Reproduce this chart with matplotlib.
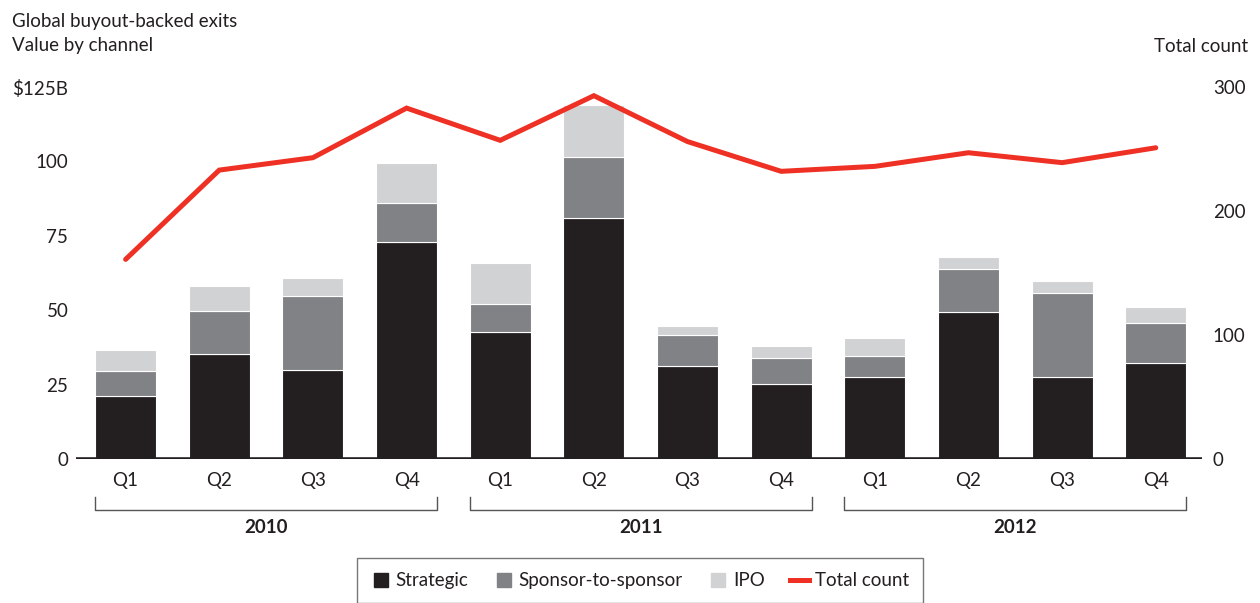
import matplotlib
matplotlib.use("Agg")
import matplotlib.pyplot as plt
from matplotlib.lines import Line2D
import numpy as np

# Quarterly exit values ($B) by channel and total deal count
quarters = ["Q1", "Q2", "Q3", "Q4"] * 3
years = ["2010", "2011", "2012"]
strategic = [21.3, 35.3, 29.9, 72.9, 42.8, 80.9, 31.1, 25.2, 27.4, 49.4, 27.7, 32.3]
sponsor = [8.2, 14.3, 24.8, 13.2, 9.2, 20.6, 10.7, 8.6, 7.2, 14.4, 28.2, 13.3]
ipo = [7.0, 8.6, 6.1, 13.4, 14.0, 17.5, 3.0, 4.2, 6.0, 4.1, 3.9, 5.6]
total_count = [161, 233, 243, 283, 257, 293, 256, 232, 236, 247, 239, 251]

C_STRAT = "#231F20"
C_SPON = "#818286"
C_IPO = "#D1D2D4"
C_LINE = "#EE3124"
C_TEXT = "#231F20"
FS = 13.5

plt.rcParams["font.family"] = ["Lato", "DejaVu Sans"]

fig = plt.figure(figsize=(12.6, 6.03), dpi=100)
ax = fig.add_axes([0.0603, 0.2388, 0.8934, 0.6169])
ax2 = ax.twinx()

x = np.arange(len(quarters))
w = 0.65
s = np.array(strategic)
sp = np.array(sponsor)
ip = np.array(ipo)

ax.bar(x, s, w, color=C_STRAT, edgecolor="white", linewidth=0.8, zorder=2)
ax.bar(x, sp, w, bottom=s, color=C_SPON, edgecolor="white", linewidth=0.8, zorder=2)
ax.bar(x, ip, w, bottom=s + sp, color=C_IPO, edgecolor="white", linewidth=0.8, zorder=2)
ax.axhline(0, color=C_STRAT, linewidth=3.3, zorder=3)

ax2.plot(x, total_count, color=C_LINE, linewidth=3.6, solid_capstyle="round",
         solid_joinstyle="miter", zorder=4)

ax.set_xlim(-0.53, 11.49)
ax.set_ylim(0, 125)
ax2.set_ylim(0, 300)
ax.set_yticks([0, 25, 50, 75, 100, 125])
ax.set_yticklabels(["0", "25", "50", "75", "100", "$125B"])
ax2.set_yticks([0, 100, 200, 300])
ax.set_xticks(x)
ax.set_xticklabels(quarters)

for a in (ax, ax2):
    for sp_name in a.spines.values():
        sp_name.set_visible(False)
    a.tick_params(length=0, labelsize=FS, labelcolor=C_TEXT)
ax.tick_params(axis="y", pad=5.5)
ax2.tick_params(axis="y", pad=8)
ax.tick_params(axis="x", pad=9)

# Year brackets under the quarter labels
trans = ax.get_xaxis_transform()
for i, yr in enumerate(years):
    x0 = i * 4 - w / 2
    x1 = i * 4 + 3 + w / 2
    ax.plot([x0, x0, x1, x1], [-0.102, -0.137, -0.137, -0.102], transform=trans,
            color="#555555", linewidth=1.0, clip_on=False)
    ax.text((x0 + x1) / 2, -0.183, yr, transform=trans, ha="center", va="center",
            fontsize=FS, fontweight="bold", color=C_TEXT)

fig.text(12 / 1260, 1 - 27.5 / 603, "Global buyout-backed exits", fontsize=FS,
         color=C_TEXT, va="baseline", ha="left")
fig.text(12 / 1260, 1 - 51 / 603, "Value by channel", fontsize=FS,
         color=C_TEXT, va="baseline", ha="left")
fig.text(1248 / 1260, 1 - 51.5 / 603, "Total count", fontsize=FS,
         color=C_TEXT, va="baseline", ha="right")

handles = [
    Line2D([], [], linestyle="none", marker="s", markersize=10, color=C_STRAT, label="Strategic"),
    Line2D([], [], linestyle="none", marker="s", markersize=10, color=C_SPON, label="Sponsor-to-sponsor"),
    Line2D([], [], linestyle="none", marker="s", markersize=10, color=C_IPO, label="IPO"),
    Line2D([], [], color=C_LINE, linewidth=3.6, label="Total count"),
]
leg = fig.legend(handles=handles, loc="upper center", bbox_to_anchor=(0.508, 1 - 558 / 603),
                 ncol=4, frameon=True, fontsize=FS, handlelength=1.0, handletextpad=0.3,
                 columnspacing=1.37, borderpad=0.75, borderaxespad=0, fancybox=False)
leg.get_frame().set_edgecolor("#555555")
leg.get_frame().set_linewidth(1.0)
for t in leg.get_texts():
    t.set_color(C_TEXT)

fig.savefig("out.png", dpi=100, facecolor="white")
